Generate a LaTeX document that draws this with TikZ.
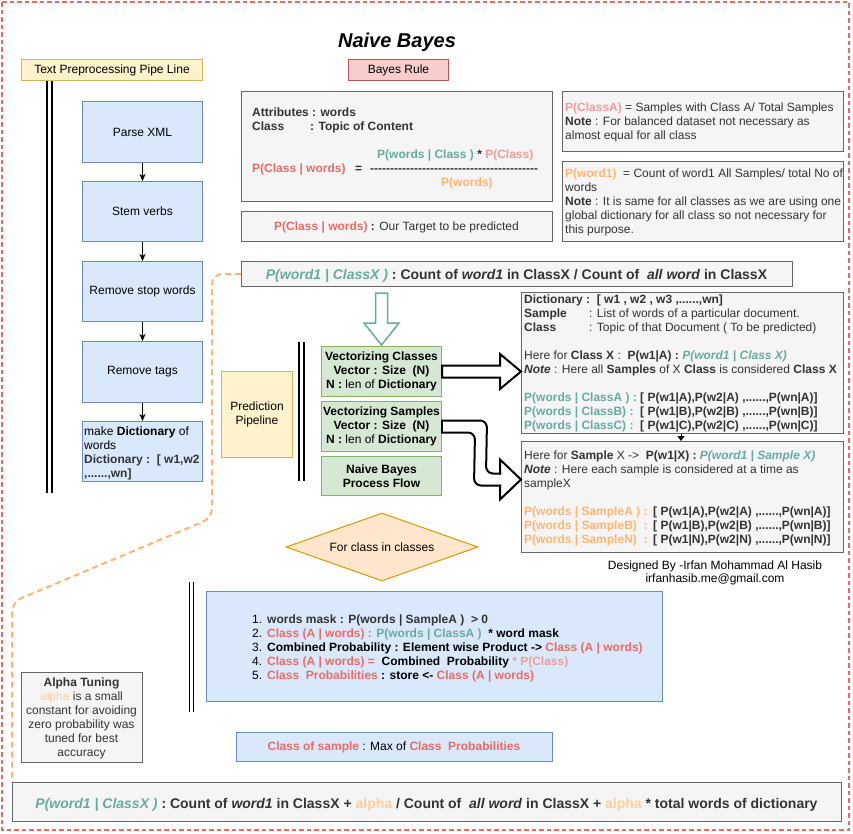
\documentclass[tikz,border=0pt]{standalone}
\usepackage{fontspec}
\setmainfont{Liberation Sans}[Ligatures=TeXOff]
\usetikzlibrary{arrows.meta,shapes.geometric,calc}
\definecolor{cred}{HTML}{EA6B66}
\definecolor{cpink}{HTML}{F19C99}
\definecolor{cteal}{HTML}{67AB9F}
\definecolor{corange}{HTML}{FFB570}
\definecolor{clorange}{HTML}{FFCE9F}
\definecolor{cdark}{HTML}{333333}
\definecolor{gfill}{HTML}{F5F5F5}
\definecolor{gdraw}{HTML}{666666}
\definecolor{bfill}{HTML}{DAE8FC}
\definecolor{bdraw}{HTML}{6C8EBF}
\definecolor{grfill}{HTML}{D5E8D4}
\definecolor{grdraw}{HTML}{82B366}
\definecolor{yfill}{HTML}{FFF2CC}
\definecolor{ydraw}{HTML}{D6B656}
\definecolor{rfill}{HTML}{F8CECC}
\definecolor{rdraw}{HTML}{B85450}
\definecolor{ofill}{HTML}{FFE6CC}
\definecolor{odraw}{HTML}{D79B00}
\newcommand{\fs}{\fontsize{12}{14}\selectfont}
\newcommand{\fsb}{\fontsize{14}{16}\selectfont\bfseries}
\newcommand{\xB}[1]{\textbf{#1}}
\newcommand{\xBI}[1]{\textbf{\textit{#1}}}
\newcommand{\xCB}[2]{\textcolor{#1}{\textbf{#2}}}
\newcommand{\xCBI}[2]{\textcolor{#1}{\textbf{\textit{#2}}}}
\newcommand{\gtx}[4]{\node[lbl] (#1) at (#2,#3) {#4};}
\newcommand{\ktx}[4]{\node[lblk] (#1) at (#2,#3) {#4};}
\begin{document}
\begin{tikzpicture}[x=1pt,y=-1pt,
  bx/.style={draw, line width=1pt, inner sep=0pt, anchor=north west, font=\fs},
  gbox/.style={bx, draw=gdraw, fill=gfill, text=cdark},
  bbox/.style={bx, draw=bdraw, fill=bfill, text=black},
  grbox/.style={bx, draw=grdraw, fill=grfill, align=center, text=black},
  ybox/.style={bx, draw=ydraw, fill=yfill, align=center, text=black},
  rbox/.style={bx, draw=rdraw, fill=rfill, text=black},
  lbl/.style={inner sep=0pt, anchor=base west, font=\fs, text=cdark},
  lblk/.style={lbl, text=black},
  lblc/.style={lbl, anchor=base},
  parr/.style={-{Stealth[length=7pt,width=6pt,inset=2pt]}, line width=0.8pt},
  harr/.style={line width=2pt, line join=miter},
  dbl/.style={line width=2pt},
  odash/.style={draw=corange, line width=2pt, dash pattern=on 6pt off 4pt},
]
\useasboundingbox (0,0) rectangle (853,833);
\fill[white] (0,0) rectangle (853,833);
\draw[cred, line width=1.5pt, dash pattern=on 4.5pt off 3pt] (2,2) rectangle (849,830);

% title and headers
\node[anchor=base, inner sep=0pt, font=\fontsize{20}{22}\selectfont\bfseries\itshape] (title) at (397,47) {Naive Bayes};
\node[ybox, minimum width=181pt, minimum height=21pt] (tpp) at (21,59) {Text Preprocessing Pipe Line};
\node[rbox, minimum width=100pt, minimum height=21pt] (brule) at (348,59) {Bayes Rule};

% left pipeline
\draw[dbl] (47,81) -- (47,493);
\draw[dbl] (52,81) -- (52,493);
\node[bbox, minimum width=120pt, minimum height=61pt] (pxml) at (82,101) {Parse XML};
\node[bbox, minimum width=120pt, minimum height=60pt] (stem) at (82,181) {Stem verbs};
\node[bbox, minimum width=120pt, minimum height=60pt] (rsw) at (82,261) {Remove stop words};
\node[bbox, minimum width=120pt, minimum height=61pt] (rtag) at (82,341) {Remove tags};
\node[bbox, minimum width=120pt, minimum height=60pt] (mdict) at (82,421) {};
\ktx{md1}{84}{435}{make \xB{Dictionary} of}
\ktx{md2}{84}{449}{words}
\ktx{md3}{84}{463}{\textcolor{cdark}{\xB{Dictionary :\ \ [ w1,w2}}}
\ktx{md4}{84}{477}{\textcolor{cdark}{\xB{,......,wn]}}}
\draw[parr] (pxml) -- (stem);
\draw[parr] (stem) -- (rsw);
\draw[parr] (rsw) -- (rtag);
\draw[parr] (rtag) -- (mdict);

% Bayes rule boxes
\node[gbox, minimum width=311pt, minimum height=110pt] (attr) at (241,91) {};
\gtx{at1}{252}{116}{\xB{Attributes : words}}
\gtx{at2}{252}{130}{\xB{Class}}
\gtx{at3}{310}{130}{\xB{: Topic of Content}}
\gtx{at4}{377}{158}{\xCB{cteal}{P(words | Class )} \xB{*} \xCB{cpink}{P(Class)}}
\gtx{at5}{252}{172}{\xCB{cred}{P(Class | words)}}
\gtx{at6}{355}{172}{\xB{=}}
\gtx{at7}{370}{172}{\xB{------------------------------------------}}
\gtx{at8}{441}{186}{\xCB{corange}{P(words)}}

\node[gbox, minimum width=311pt, minimum height=30pt] (target) at (241,211) {};
\node[lblc] (tgt) at (396.5,230) {\xCB{cred}{P(Class | words)}\xB{ :} Our Target to be predicted};

\node[gbox, minimum width=281pt, minimum height=60pt] (pca) at (562,91) {};
\gtx{pa1}{565}{111}{\xCB{cpink}{P(ClassA)} = Samples with Class A/ Total Samples}
\gtx{pa2}{565}{125}{\xB{Note} : For balanced dataset not necessary as}
\gtx{pa3}{565}{139}{almost equal for all class}

\node[gbox, minimum width=281pt, minimum height=80pt] (pwd) at (562,161) {};
\gtx{pw1}{565}{177}{\xCB{corange}{P(word1)}\ \ = Count of word1 All Samples/ total No of}
\gtx{pw2}{565}{191}{words}
\gtx{pw3}{565}{205}{\xB{Note} : It is same for all classes as we are using one}
\gtx{pw4}{565}{219}{global dictionary for all class so not necessary for}
\gtx{pw5}{565}{233}{this purpose.}

% likelihood formula
\node[gbox, minimum width=551pt, minimum height=25pt] (pwc) at (241,261) {};
\node[lblc, font=\fsb] (pwct) at (516.5,279) {\textcolor{cteal}{\textit{P(word1 | ClassX )}} : Count of \textit{word1} in ClassX / Count of\ \ \textit{all word} in ClassX};

% prediction pipeline
\node[ybox, minimum width=71pt, minimum height=86pt] (ppl) at (221,371) {Prediction\\Pipeline};
\draw[dbl] (299,342) -- (299,481);
\draw[dbl] (304,342) -- (304,481);
\node[grbox, minimum width=120pt, minimum height=50pt] (gc) at (321,346) {\xB{Vectorizing Classes}\\\xB{Vector : Size\ \ (N)}\\\xB{N :} len of \xB{Dictionary}};
\node[grbox, minimum width=120pt, minimum height=50pt] (gs) at (321,401) {\xB{Vectorizing Samples}\\\xB{Vector : Size\ \ (N)}\\\xB{N :} len of \xB{Dictionary}};
\node[grbox, minimum width=120pt, minimum height=39pt] (gn) at (321,456) {\xB{Naive Bayes}\\\xB{Process Flow}};

% teal hollow arrow
\coordinate (ta0) at ($(gc.north |- pwc.south)+(0,6)$);
\coordinate (ta1) at ($(gc.north)+(0,-1)$);
\draw[cteal, line width=1.5pt, line join=miter]
  ($(ta0)+(-6,0)$) -- ($(ta0)+(6,0)$) -- ($(ta1)+(6,-22)$) -- ($(ta1)+(17.5,-22)$) -- (ta1)
  -- ($(ta1)+(-17.5,-22)$) -- ($(ta1)+(-6,-22)$) -- cycle;

% dictionary box
\node[gbox, minimum width=322pt, minimum height=141pt] (dict) at (521,292) {};
\gtx{d1}{524}{303}{\xB{Dictionary :\ \ [ w1 , w2 , w3 ,......,wn]}}
\gtx{d2}{524}{317}{\xB{Sample}}
\gtx{d2b}{589}{317}{: List of words of a particular document.}
\gtx{d3}{524}{331}{\xB{Class}}
\gtx{d3b}{589}{331}{: Topic of that Document ( To be predicted)}
\gtx{d5}{524}{359}{Here for \xB{Class X} :\ \ \xB{P(w1|A) :} \xCBI{cteal}{P(word1 | Class X)}}
\gtx{d6}{524}{373}{\xBI{Note} : Here all \xB{Samples} of X \xB{Class} is considered \xB{Class X}}
\gtx{d8}{524}{401}{\xCB{cteal}{P(words | ClassA ) :}}
\gtx{d8b}{640}{401}{\xB{[ P(w1|A),P(w2|A) ,......,P(wn|A)]}}
\gtx{d9}{524}{415}{\xCB{cteal}{P(words | ClassB) :}}
\gtx{d9b}{640}{415}{\xB{[ P(w1|B),P(w2|B) ,......,P(wn|B)]}}
\gtx{d10}{524}{429}{\xCB{cteal}{P(words | ClassC) :}}
\gtx{d10b}{640}{429}{\xB{[ P(w1|C),P(w2|C) ,......,P(wn|C)]}}

% sample box
\node[gbox, minimum width=322pt, minimum height=111pt] (samp) at (521,441) {};
\gtx{s1}{524}{459}{Here for \xB{Sample} X ->\ \ \xB{P(w1|X) :} \xCBI{cteal}{P(word1 | Sample X)}}
\gtx{s2}{524}{473}{\xBI{Note} : Here each sample is considered at a time as}
\gtx{s3}{524}{487}{sampleX}
\gtx{s5}{524}{515}{\xCB{corange}{P(words | SampleA ) :}}
\gtx{s5b}{653}{515}{\xB{[ P(w1|A),P(w2|A) ,......,P(wn|A)]}}
\gtx{s6}{524}{529}{\xCB{corange}{P(words | SampleB)\ \ :}}
\gtx{s6b}{653}{529}{\xB{[ P(w1|B),P(w2|B) ,......,P(wn|B)]}}
\gtx{s7}{524}{543}{\xCB{corange}{P(words | SampleN)\ \ :}}
\gtx{s7b}{653}{543}{\xB{[ P(w1|N),P(w2|N) ,......,P(wn|N)]}}
\draw[-{Triangle[length=5pt,width=7pt]}, line width=0.8pt] ($(dict.south west)+(160,0)$) -- ($(samp.north west)+(160,0)$);

% straight hollow arrow
\coordinate (sa0) at (gc.east);
\coordinate (sa1) at (dict.west |- gc.east);
\draw[harr] ($(sa0)+(0,-6)$) -- ($(sa1)+(-21,-6)$) -- ($(sa1)+(-21,-17.5)$) -- (sa1)
  -- ($(sa1)+(-21,17.5)$) -- ($(sa1)+(-21,6)$) -- ($(sa0)+(0,6)$) -- cycle;

% bent hollow arrow
\coordinate (ba0) at (gs.east);
\coordinate (ba1) at ($(samp.west)+(0,-17.5)$);
\draw[harr, rounded corners=7, line cap=rect] ($(ba0)+(0,-6)$) -- ($(ba0)+(45,-6)$) -- ($(ba1)+(-35,-6)$) -- ($(ba1)+(-21,-6)$);
\draw[harr, line cap=rect] ($(ba1)+(-21,-6)$) -- ($(ba1)+(-21,-20)$) -- (ba1) -- ($(ba1)+(-21,20)$) -- ($(ba1)+(-21,6)$);
\draw[harr, rounded corners=7, line cap=rect] ($(ba1)+(-21,6)$) -- ($(ba1)+(-47,6)$) -- ($(ba0)+(33,6)$) -- ($(ba0)+(0,6)$);
\draw[harr] ($(ba0)+(0,6)$) -- ($(ba0)+(0,-6)$);

% for loop
\node[draw=odraw, fill=ofill, line width=1pt, shape=diamond, aspect=2.8, inner sep=0pt, minimum width=192pt, minimum height=68pt, font=\fs] (loop) at (382,547) {For class in classes};

\node[lblc, text=black] (des1) at (715,569) {Designed By -Irfan Mohammad Al Hasib};
\node[lblc, text=black] (des2) at (715,582) {irfanhasib.me@gmail.com};

% steps
\draw[line width=1.2pt] (189.5,582) -- (189.5,712);
\draw[line width=1.2pt] (193.5,582) -- (193.5,712);
\node[bbox, minimum width=456pt, minimum height=110pt] (steps) at (206,591) {};
\ktx{n1}{252}{623}{1.}
\ktx{n2}{252}{637}{2.}
\ktx{n3}{252}{651}{3.}
\ktx{n4}{252}{665}{4.}
\ktx{n5}{252}{679}{5.}
\gtx{b1}{267}{623}{\xB{words mask : P(words | SampleA )\ \ > 0}}
\ktx{b2}{267}{637}{\xCB{cred}{Class (A | words) :} \xCB{cteal}{P(words | ClassA )}\ \ \xB{* word mask}}
\ktx{b3}{267}{651}{\xB{Combined Probability : Element wise Product -> }\xCB{cred}{Class (A | words)}}
\ktx{b4}{267}{665}{\xCB{cred}{Class (A | words) =}\ \ \xB{Combined\ \ Probability} \xCB{cpink}{* P(Class)}}
\ktx{b5}{267}{679}{\xCB{cred}{Class\ \ Probabilities} \xB{: store <- }\xCB{cred}{Class (A | words)}}

% alpha box
\node[gbox, minimum width=121pt, minimum height=90pt] (alpha) at (21,672) {};
\node[lblc] (al1) at (81.5,686) {\xB{Alpha Tuning}};
\node[lblc] (al2) at (81.5,700) {\textcolor{clorange}{alpha} is a small};
\node[lblc] (al3) at (81.5,714) {constant for avoiding};
\node[lblc] (al4) at (81.5,728) {zero probability was};
\node[lblc] (al5) at (81.5,742) {tuned for best};
\node[lblc] (al6) at (81.5,756) {accuracy};

% class of sample
\node[bbox, minimum width=316pt, minimum height=29pt] (cos) at (236,732) {};
\node[lblc, text=black] (cost) at (394,750) {\xCB{cred}{Class of sample} : Max of \xCB{cred}{Class\ \ Probabilities}};

% smoothed formula
\node[gbox, minimum width=829pt, minimum height=39pt] (bot) at (12,782) {};
\node[lblc, font=\fsb] (bott) at (426.5,808) {\textcolor{cteal}{\textit{P(word1 | ClassX )}} : Count of \textit{word1} in ClassX + \textcolor{clorange}{alpha} / Count of\ \ \textit{all word} in ClassX + \textcolor{clorange}{alpha} * total words of dictionary};

% dashed connector
\draw[odash, rounded corners=10] (pwc.west) -- ++(-29,0) -- (212,518) -- (12,602) -- (bot.north west);
\end{tikzpicture}
\end{document}
